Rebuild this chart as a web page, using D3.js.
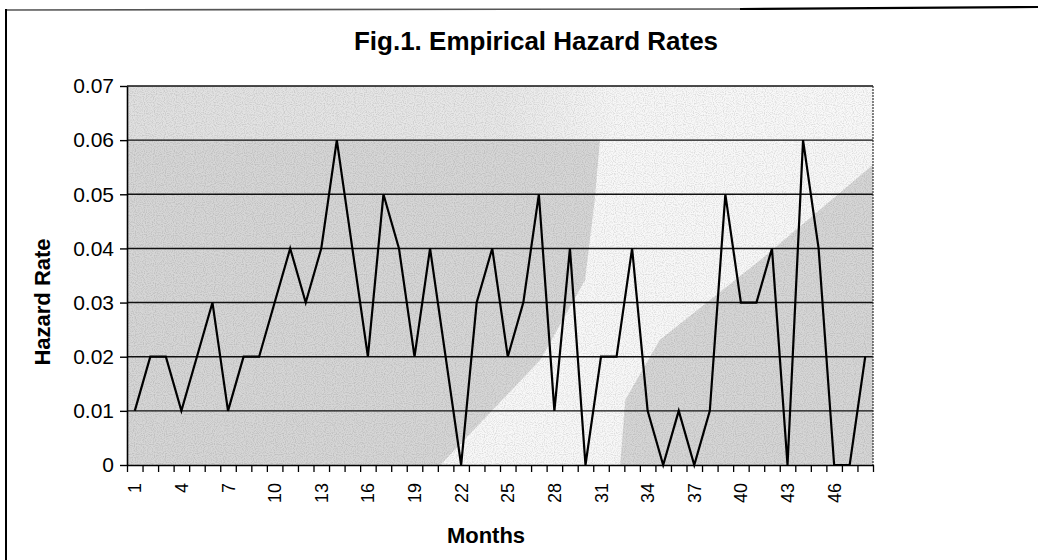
<!DOCTYPE html>
<html>
<head>
<meta charset="utf-8">
<script src="https://cdn.jsdelivr.net/npm/d3@7/dist/d3.min.js"></script>
<style>
  html, body { margin: 0; padding: 0; background: #ffffff; }
  svg { display: block; }
  text { font-family: "Liberation Sans", Arial, Helvetica, sans-serif; fill: #000; }
</style>
</head>
<body>
<svg id="chart" width="1038" height="560"></svg>
<script>
// Month index of each observation
const months = [1, 2, 3, 4, 5, 6, 7, 8, 9, 10, 11, 12, 13, 14, 15, 16,
                17, 18, 19, 20, 21, 22, 23, 24, 25, 26, 27, 28, 29, 30, 31, 32,
                33, 34, 35, 36, 37, 38, 39, 40, 41, 42, 43, 44, 45, 46, 47, 48];

// Empirical hazard rate per month
const hazardRates = [0.01, 0.02, 0.02, 0.01, 0.02, 0.03, 0.01, 0.02, 0.02, 0.03, 0.04, 0.03, 0.04, 0.06, 0.04, 0.02,
                     0.05, 0.04, 0.02, 0.04, 0.02, 0.00, 0.03, 0.04, 0.02, 0.03, 0.05, 0.01, 0.04, 0.00, 0.02, 0.02,
                     0.04, 0.01, 0.00, 0.01, 0.00, 0.01, 0.05, 0.03, 0.03, 0.04, 0.00, 0.06, 0.04, 0.00, 0.00, 0.02];

// Labelled months on the category axis
const monthLabels = [1, 4, 7, 10, 13, 16, 19, 22, 25, 28, 31, 34, 37, 40, 43, 46];

// Value axis ticks
const rateTicks = [0, 0.01, 0.02, 0.03, 0.04, 0.05, 0.06, 0.07];

const svg = d3.select("#chart");
const plot = { left: 127, right: 873, top: 86, bottom: 465 };
const pw = plot.right - plot.left, ph = plot.bottom - plot.top;

const x = d3.scaleBand().domain(months).range([plot.left, plot.right]).padding(0);
const xEdge = d3.scaleLinear().domain([0, months.length]).range([plot.left, plot.right]);
const y = d3.scaleLinear().domain([0, 0.07]).range([plot.bottom, plot.top]);

// Outer chart frame (top and left edges)
svg.append("line").attr("x1", 6).attr("y1", 10).attr("x2", 740).attr("y2", 9)
  .attr("stroke", "#555").attr("stroke-width", 1.6);
svg.append("line").attr("x1", 740).attr("y1", 9).attr("x2", 1038).attr("y2", 7)
  .attr("stroke", "#000").attr("stroke-width", 2.2);
svg.append("line").attr("x1", 6).attr("y1", 9).attr("x2", 6).attr("y2", 560)
  .attr("stroke", "#000").attr("stroke-width", 2);

// Plot-area fill: speckled grey with a pale diagonal sweep
const defs = svg.append("defs");
const topGrad = defs.append("linearGradient").attr("id", "topBand")
  .attr("x1", "0").attr("x2", "1").attr("y1", "0").attr("y2", "0");
topGrad.append("stop").attr("offset", "0").attr("stop-color", "#e0e0e0");
topGrad.append("stop").attr("offset", "0.5").attr("stop-color", "#e8e8e8");
topGrad.append("stop").attr("offset", "0.66").attr("stop-color", "#f7f7f7");
topGrad.append("stop").attr("offset", "1").attr("stop-color", "#f9f9f9");

const grain = defs.append("filter").attr("id", "grain")
  .attr("x", 0).attr("y", 0).attr("width", "100%").attr("height", "100%");
grain.append("feTurbulence").attr("type", "fractalNoise").attr("baseFrequency", 0.9)
  .attr("numOctaves", 1).attr("seed", 7).attr("result", "noise");
grain.append("feColorMatrix").attr("in", "noise").attr("type", "matrix")
  .attr("values", "0 0 0 0 0  0 0 0 0 0  0 0 0 0 0  0 0 0 -3 1.75").attr("result", "dots");
grain.append("feComposite").attr("in", "dots").attr("in2", "SourceGraphic").attr("operator", "in");

const clip = defs.append("clipPath").attr("id", "plotClip");
clip.append("rect").attr("x", plot.left).attr("y", plot.top).attr("width", pw).attr("height", ph);

const bg = svg.append("g").attr("clip-path", "url(#plotClip)");
const px = u => plot.left + u * pw, py = v => plot.top + v * ph;

bg.append("rect").attr("x", plot.left).attr("y", plot.top).attr("width", pw).attr("height", ph)
  .attr("fill", "#d6d6d6");
bg.append("rect").attr("x", plot.left).attr("y", plot.top).attr("width", pw).attr("height", ph * 0.142)
  .attr("fill", "url(#topBand)");

const paleSweep = [[0.42, 1], [0.554, 0.723], [0.614, 0.512], [0.627, 0.301], [0.634, 0.142],
                   [1, 0.142], [1, 0.208], [0.849, 0.459], [0.714, 0.67], [0.668, 0.828], [0.661, 1]];
bg.append("path")
  .attr("d", d3.line().x(d => px(d[0])).y(d => py(d[1]))(paleSweep) + "Z")
  .attr("fill", "#f8f8f8");

// Sparse speckle over the whole plot area
bg.append("rect").attr("x", plot.left).attr("y", plot.top).attr("width", pw).attr("height", ph)
  .attr("fill", "#000").attr("opacity", 0.1).attr("filter", "url(#grain)");

// Horizontal gridlines
svg.append("g").selectAll("line").data(rateTicks.filter(d => d > 0)).join("line")
  .attr("x1", plot.left).attr("x2", plot.right)
  .attr("y1", d => y(d)).attr("y2", d => y(d))
  .attr("stroke", "#111").attr("stroke-width", 1.4);

// Right edge of plot area
svg.append("line").attr("x1", plot.right).attr("x2", plot.right)
  .attr("y1", plot.top).attr("y2", plot.bottom)
  .attr("stroke", "#333").attr("stroke-width", 1.2).attr("stroke-dasharray", "2,1");

// Value axis
const yAxis = svg.append("g").attr("transform", `translate(${plot.left},0)`)
  .call(d3.axisLeft(y).tickValues(rateTicks)
    .tickFormat(d => d === 0 ? "0" : d3.format(".2f")(d))
    .tickSize(7).tickSizeOuter(0).tickPadding(6));
yAxis.select(".domain").attr("stroke", "#000").attr("stroke-width", 1.6);
yAxis.selectAll(".tick line").attr("stroke", "#000").attr("stroke-width", 1.4);
yAxis.selectAll("text").attr("font-size", 21).attr("font-family", "Liberation Sans, Arial, sans-serif");

// Category axis: tick marks on category boundaries
const xTicks = svg.append("g").attr("transform", `translate(0,${plot.bottom})`)
  .call(d3.axisBottom(xEdge).tickValues(d3.range(0, months.length + 1)).tickFormat("")
    .tickSize(7).tickSizeOuter(0));
xTicks.select(".domain").attr("stroke", "#000").attr("stroke-width", 1.6);
xTicks.selectAll(".tick line").attr("stroke", "#000").attr("stroke-width", 1.3);

// Category labels, rotated, centred on each month
const xLabels = svg.append("g").attr("transform", `translate(0,${plot.bottom})`)
  .call(d3.axisBottom(x).tickValues(monthLabels).tickSize(0).tickPadding(0));
xLabels.select(".domain").remove();
xLabels.selectAll("text")
  .attr("font-size", 18).attr("font-family", "Liberation Sans, Arial, sans-serif")
  .attr("text-anchor", "end")
  .attr("transform", "rotate(-90)")
  .attr("x", -18).attr("y", 0).attr("dy", "0.36em");

// Hazard rate series
svg.append("path")
  .datum(months.map((m, i) => [m, hazardRates[i]]))
  .attr("fill", "none").attr("stroke", "#000").attr("stroke-width", 2.2)
  .attr("stroke-linejoin", "miter")
  .attr("d", d3.line().x(d => x(d[0]) + x.bandwidth() / 2).y(d => y(d[1])));

// Titles
svg.append("text").attr("x", 536).attr("y", 50).attr("text-anchor", "middle")
  .attr("font-size", 26).attr("font-weight", "bold").text("Fig.1. Empirical Hazard Rates");
svg.append("text").attr("x", 486).attr("y", 543).attr("text-anchor", "middle")
  .attr("font-size", 22).attr("font-weight", "bold").text("Months");
svg.append("text").attr("transform", "translate(50,302) rotate(-90)").attr("text-anchor", "middle")
  .attr("font-size", 22).attr("font-weight", "bold").text("Hazard Rate");
</script>
</body>
</html>
